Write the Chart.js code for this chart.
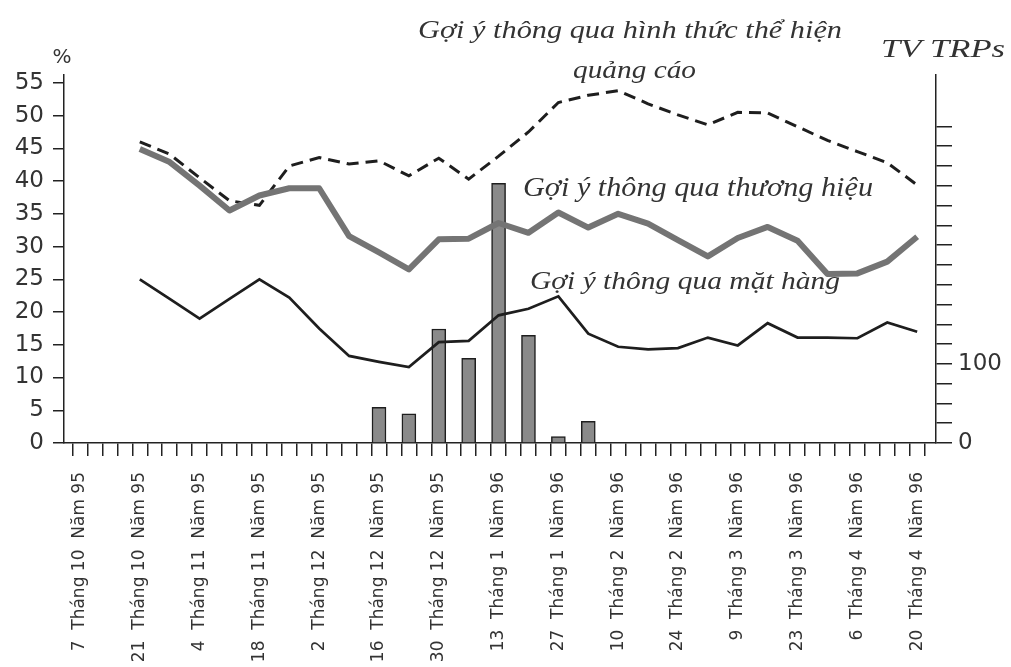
<!DOCTYPE html>
<html>
<head>
<meta charset="utf-8">
<script src="https://cdn.jsdelivr.net/npm/chart.js@4/dist/chart.umd.min.js"></script>
<style>
html,body{margin:0;padding:0;background:#fff;}
#wrap{width:1011px;height:667px;position:relative;background:#fff;}
canvas{display:block;}
</style>
</head>
<body>
<div id="wrap"><canvas id="c" width="1011" height="667"></canvas></div>
<script>
// Bi-weekly tick labels (one every 4 half-week ticks)
const tickLabels = [
  '7  Tháng 10  Năm 95', '21  Tháng 10  Năm 95', '4  Tháng 11  Năm 95', '18  Tháng 11  Năm 95',
  '2  Tháng 12  Năm 95', '16  Tháng 12  Năm 95', '30  Tháng 12  Năm 95', '13  Tháng 1  Năm 96',
  '27  Tháng 1  Năm 96', '10  Tháng 2  Năm 96', '24  Tháng 2  Năm 96', '9  Tháng 3  Năm 96',
  '23  Tháng 3  Năm 96', '6  Tháng 4  Năm 96', '20  Tháng 4  Năm 96'
];
// Weekly series, week 0 = 7 Tháng 10 Năm 95 ... week 28 = 20 Tháng 4 Năm 96
const weeks = Array.from({length: 29}, (_, i) => i);
const brandPct = [null, null, 44.9, 42.9, 39.3, 35.5, 37.8, 38.9, 38.9, 31.6, 29.1, 26.5, 31.1, 31.2, 33.6, 32.1, 35.2, 32.9, 35.0, 33.5, 31.0, 28.5, 31.3, 33.0, 30.9, 25.8, 25.9, 27.7, 31.5];
const productPct = [null, null, 25.0, 22.0, 19.0, 22.0, 25.0, 22.2, 17.5, 13.3, 12.4, 11.6, 15.4, 15.6, 19.5, 20.5, 22.4, 16.7, 14.7, 14.3, 14.5, 16.1, 14.9, 18.3, 16.1, 16.1, 16.0, 18.4, 17.0];
const formatPct = [null, null, 46.0, 44.1, 40.5, 37.0, 36.3, 42.3, 43.6, 42.6, 43.1, 40.8, 43.5, 40.3, 43.8, 47.5, 52.0, 53.1, 53.8, 51.8, 50.1, 48.6, 50.5, 50.4, 48.3, 46.2, 44.5, 42.8, 39.4];
const tvTRPs = [null, null, null, null, null, null, null, null, null, null, 45, 37, 144, 107, 328, 136, 8, 27.5, null, null, null, null, null, null, null, null, null, null, null];
const leftTicks = [0, 5, 10, 15, 20, 25, 30, 35, 40, 45, 50, 55];
const rightTicks = Array.from({length: 17}, (_, i) => i * 25);
const rightLabeled = [0, 100];

const toPts = arr => weeks.map(w => ({x: w * 2, y: arr[w]}));

const notes = [
  {text: 'Gợi ý thông qua hình thức thể hiện', left: 418, right: 842, base: 38, size: 25},
  {text: 'quảng cáo', left: 573, right: 696, base: 78, size: 25},
  {text: 'TV TRPs', left: 881, right: 1005, base: 57, size: 26},
  {text: 'Gợi ý thông qua thương hiệu', left: 523, right: 873, base: 196, size: 27},
  {text: 'Gợi ý thông qua mặt hàng', left: 530, right: 840, base: 289, size: 26}
];

const notePlugin = {
  id: 'notes',
  afterDraw(chart) {
    const ctx = chart.ctx;
    ctx.save();
    ctx.fillStyle = '#333';
    ctx.textBaseline = 'alphabetic';
    ctx.textAlign = 'left';
    for (const n of notes) {
      ctx.font = 'italic ' + n.size + 'px "Liberation Serif"';
      const m = ctx.measureText(n.text).width;
      ctx.save();
      ctx.translate(n.left, n.base);
      ctx.scale((n.right - n.left) / m, 1);
      ctx.fillText(n.text, 0, 0);
      ctx.restore();
    }
    ctx.font = '20px "DejaVu Sans"';
    ctx.textAlign = 'center';
    ctx.fillStyle = '#333';
    ctx.fillText('%', 62, 63);
    ctx.restore();
  }
};

new Chart(document.getElementById('c'), {
  type: 'line',
  data: {
    datasets: [
      {
        label: 'Gợi ý thông qua thương hiệu', data: toPts(brandPct), yAxisID: 'y',
        borderColor: '#747474', borderWidth: 6, pointRadius: 0, tension: 0, order: 0,
        borderJoinStyle: 'round'
      },
      {
        label: 'Gợi ý thông qua hình thức thể hiện quảng cáo', data: toPts(formatPct), yAxisID: 'y',
        borderColor: '#1e1e1e', borderWidth: 3, borderDash: [12, 7], pointRadius: 0, tension: 0, order: 0
      },
      {
        label: 'Gợi ý thông qua mặt hàng', data: toPts(productPct), yAxisID: 'y',
        borderColor: '#1e1e1e', borderWidth: 2.7, pointRadius: 0, tension: 0, order: 0
      },
      {
        type: 'bar', label: 'TV TRPs', data: toPts(tvTRPs), yAxisID: 'y2',
        backgroundColor: '#8a8a8a', borderColor: '#1e1e1e', borderWidth: 1.5,
        barThickness: 14, order: 1
      }
    ]
  },
  options: {
    responsive: false,
    animation: false,
    devicePixelRatio: 1,
    layout: {padding: {top: 75, left: 0, right: 0, bottom: 0}},
    plugins: {legend: {display: false}, tooltip: {enabled: false}},
    scales: {
      x: {
        type: 'linear', position: 'bottom', min: -1.07, max: 57.26, offset: false,
        afterBuildTicks: s => { s.ticks = Array.from({length: 57}, (_, i) => ({value: i})); },
        afterFit: s => { s.height = 224; },
        ticks: {
          autoSkip: false, minRotation: 90, maxRotation: 90, padding: 16,
          color: '#333', font: {family: 'DejaVu Sans', size: 17},
          callback: v => (v % 4 === 0 ? tickLabels[v / 4] : '')
        },
        grid: {drawOnChartArea: false, drawTicks: true, tickLength: 13, color: '#222', lineWidth: 1.5},
        border: {display: true, color: '#222', width: 1.5}
      },
      y: {
        type: 'linear', position: 'left', min: 0, max: 56.2,
        afterBuildTicks: s => { s.ticks = leftTicks.map(v => ({value: v})); },
        afterFit: s => { s.width = 64; },
        ticks: {autoSkip: false, color: '#333', font: {family: 'DejaVu Sans', size: 23}, padding: 9},
        grid: {drawOnChartArea: false, drawTicks: true, tickLength: 11, color: '#222', lineWidth: 1.5},
        border: {display: true, color: '#222', width: 1.5}
      },
      y2: {
        type: 'linear', position: 'right', min: 0, max: 465,
        afterBuildTicks: s => { s.ticks = rightTicks.map(v => ({value: v})); },
        afterFit: s => { s.width = 75; },
        ticks: {
          autoSkip: false, color: '#333', font: {family: 'DejaVu Sans', size: 23}, padding: 6,
          callback: v => (rightLabeled.includes(v) ? String(v) : '')
        },
        grid: {drawOnChartArea: false, drawTicks: true, tickLength: 16, color: '#222', lineWidth: 1.5},
        border: {display: true, color: '#222', width: 1.5}
      }
    }
  },
  plugins: [notePlugin]
});
</script>
</body>
</html>
